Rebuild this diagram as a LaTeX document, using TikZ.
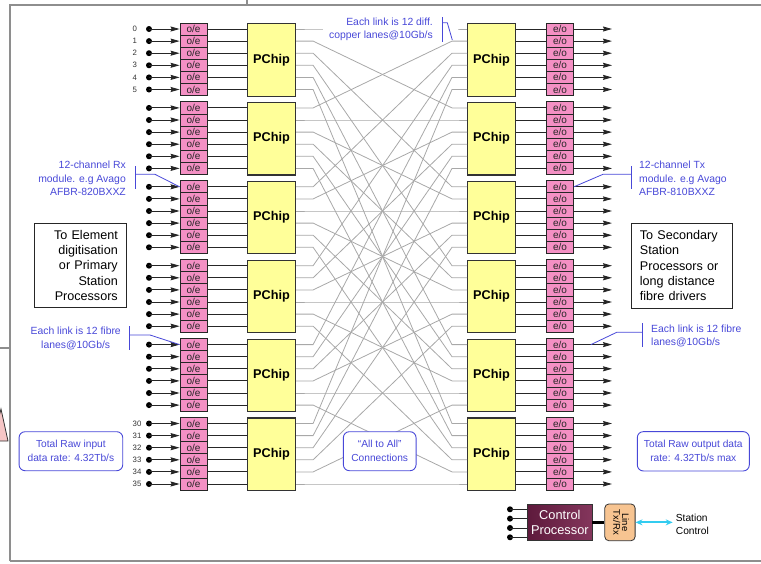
\documentclass[tikz,border=0pt]{standalone}
\usepackage{fontspec}
\setmainfont{Liberation Sans}
\usepackage{tikz}
\usetikzlibrary{arrows.meta,positioning,calc}
\definecolor{cLane}{HTML}{F490C4}
\definecolor{cChip}{HTML}{FFFF99}
\definecolor{cNote}{HTML}{4848D8}
\definecolor{cMesh}{HTML}{A8A8A8}
\definecolor{cFrame}{HTML}{8E8E8E}
\definecolor{cCpu}{HTML}{5E1A3C}
\definecolor{cCpuLight}{HTML}{84365C}
\definecolor{cLineIf}{HTML}{F7C491}
\definecolor{cLink}{HTML}{33CCF0}
\definecolor{cWarn}{HTML}{F6C6C6}
\tikzset{
  lane/.style={draw=black!85, line width=0.8pt, fill=cLane, minimum width=27pt,
               minimum height=12.1pt, inner sep=0pt, text=black!85,
               font=\fontsize{10}{10}\selectfont},
  chip/.style={draw=black!80, line width=1.1pt, fill=cChip, minimum width=48pt,
               minimum height=72.6pt, inner sep=0pt, anchor=north west,
               font=\fontsize{12.7}{13}\selectfont\bfseries},
  pin/.style={circle, fill=black, inner sep=0pt, minimum size=6pt},
  feed/.style={-{Stealth[length=9pt, width=5pt, inset=1pt]}, line width=0.9pt, draw=black!85},
  wire/.style={line width=0.9pt, draw=black!85},
  mesh/.style={line width=0.8pt, draw=cMesh},
  note/.style={text=cNote, inner sep=0pt, font=\fontsize{10.4}{13.3}\selectfont},
  pointer/.style={draw=cNote, line width=0.8pt},
  rbox/.style={draw=cNote, line width=0.9pt, rounded corners=6pt, fill=white,
               align=center, text=cNote, inner sep=2pt,
               font=\fontsize{10.2}{14}\selectfont},
  sidebox/.style={draw=black!85, line width=0.8pt, fill=white, inner xsep=8.5pt,
                  font=\fontsize{12.6}{15.3}\selectfont},
  numlbl/.style={font=\fontsize{7.8}{8}\selectfont, inner sep=0pt, anchor=west, text=black!80},
  frame/.style={draw=cFrame, line width=1.6pt},
}

\begin{document}
\begin{tikzpicture}[x=1pt, y=-1pt, node distance=12pt]
  \useasboundingbox (0,0) rectangle (761,563);
  \clip (0,0) rectangle (761,563);

  % surrounding frame
  \draw[frame] (10,561) -- (10,5) -- (770,5);
  \draw[frame] (10,561) -- (770,561);
  \draw[frame] (246.7,0) -- (246.7,5);
  \draw[frame] (0,348) -- (10,348);
  \filldraw[fill=cWarn, draw=black!80, line width=0.8pt] (-7,441) -- (1,409) -- (8,441) -- cycle;

  % six chips a side, six lanes per chip
  \foreach \g in {0,...,5}{
    \pgfmathsetmacro\gtop{22.95+78.9*\g}
    \node[chip] (lchip-\g) at (247,\gtop) {PChip};
    \node[chip] (rchip-\g) at (467,\gtop) {PChip};
    \foreach \r in {0,...,5}{
      \pgfmathtruncatemacro\k{6*\g+\r}
      \pgfmathsetmacro\yy{29+78.9*\g+12.1*\r}
      \node[pin] (in-\k) at (149,\yy) {};
      \node[lane] (oe-\k) at (193.5,\yy) {o/e};
      \node[lane] (eo-\k) at (560,\yy) {e/o};
      \coordinate (out-\k) at (612,\yy);
      \draw[feed] (in-\k.center) -- (oe-\k.west);
      \draw[wire] (oe-\k.east) -- (lchip-\g.west |- oe-\k.east);
      \draw[wire] (rchip-\g.east |- eo-\k.west) -- (eo-\k.west);
      \draw[feed] (eo-\k.east) -- (out-\k);
    }
  }
  \foreach \k in {0,1,2,3,4,5,30,31,32,33,34,35}
    \node[numlbl] (num-\k) at ($(in-\k.center)+(-16.5,0)$) {\k};

  % all to all
  \foreach \i in {0,...,5}{
    \foreach \j in {0,...,5}{
      \pgfmathtruncatemacro\a{6*\i+\j}
      \pgfmathtruncatemacro\b{6*\j+\i}
      \draw[mesh] (lchip-\i.east |- oe-\a) -- ++(17,0)
        -- ($(rchip-\j.west |- eo-\b)+(-15,0)$) -- (rchip-\j.west |- eo-\b);
    }
  }

  % notes
  \fill[white] (323,23.5) rectangle (458,34.5);
  \node[note, align=right, anchor=east] (cuNote) at (433,29.5) {Each link is 12 diff.\\copper lanes@10Gb/s};
  \draw[pointer] ($(cuNote.east)+(9.3,-12.5)$) -- ($(cuNote.east)+(9.3,12.2)$);
  \coordinate (cuTip) at (452.3,40);
  \draw[pointer] ($(cuNote.east)+(9.3,-6.8)$) -- ++(5,0) -- (cuTip);

  \node[note, align=right, anchor=east] (rxNote) at (126,178.3) {12-channel Rx\\module. e.g Avago\\AFBR-820BXXZ};
  \draw[pointer] ($(rxNote.east)+(9,-12)$) -- ($(rxNote.east)+(9,11)$);
  \draw[pointer] ($(rxNote.east)+(9,-4)$) -- ++(20,0) -- (oe-12.west);

  \node[note, align=center, anchor=east] (rxLink) at (121,338.5) {Each link is 12 fibre\\lanes@10Gb/s};
  \draw[pointer] ($(rxLink.east)+(8,-12.5)$) -- ($(rxLink.east)+(8,11.5)$);
  \draw[pointer] ($(rxLink.east)+(8,-3.5)$) -- ++(21,0) -- (oe-24.west);

  \node[note, align=left, anchor=west] (txNote) at (639,178.3) {12-channel Tx\\module. e.g Avago\\AFBR-810BXXZ};
  \draw[pointer] ($(txNote.west)+(-8,-12)$) -- ($(txNote.west)+(-8,11)$);
  \draw[pointer] ($(txNote.west)+(-8,-4)$) -- ++(-28,0) -- (eo-12.east);

  \node[note, align=left, anchor=west] (txLink) at (651,336) {Each link is 12 fibre\\lanes@10Gb/s};
  \coordinate (txTip) at ($(eo-24.east)+(17,0)$);
  \draw[pointer] ($(txLink.west)+(-8.3,-13)$) -- ($(txLink.west)+(-8.3,11)$);
  \draw[pointer] ($(txLink.west)+(-8.3,-3.7)$) -- ++(-26,0) -- (txTip);

  \node[sidebox, align=right, text width=74.7pt, minimum height=84.3pt, anchor=north east] (srcBox)
    at (126.7,222.7) {To Element\\digitisation\\or Primary\\Station\\Processors};
  \node[sidebox, align=left, text width=83.7pt, minimum height=84.7pt, anchor=north west] (dstBox)
    at (631,223) {To Secondary\\Station\\Processors or\\long distance\\fibre drivers};

  \node[rbox, minimum width=103.7pt, minimum height=39pt] (inRate) at (70.9,451.2) {Total Raw input\\data rate: 4.32Tb/s};
  \node[rbox, minimum width=72.7pt, minimum height=39pt] (allBox) at (379.7,451.2) {“All to All”\\Connections};
  \node[rbox, minimum width=112pt, minimum height=39.3pt] (outRate) at (693.3,451.3) {Total Raw output data\\rate: 4.32Tb/s max};

  % control
  \node[draw=black!80, line width=0.8pt, left color=cCpu, right color=cCpuLight, text=white,
        align=center, inner sep=0pt, minimum width=64.3pt, minimum height=36.7pt,
        font=\fontsize{12.8}{14.3}\selectfont]
    (cpu) at (559.85,522.35) {Control\\Processor};
  \node[draw=black!80, line width=0.8pt, fill=cLineIf, rounded corners=4pt, inner sep=0pt,
        minimum width=30.3pt, minimum height=36.7pt, right=12pt of cpu]
    (lineIf) {\rotatebox{-90}{\fontsize{9.5}{10.7}\selectfont\begin{tabular}{@{}c@{}}Line\\[-2pt]Tx/Rx\end{tabular}}};
  \foreach \n in {0,...,3}{
    \node[pin] (cpin-\n) at (510,509.3+9.33*\n) {};
    \draw[wire] (cpin-\n.center) -- (cpin-\n -| cpu.west);
  }
  \draw[line width=3pt] (cpu.east) -- (lineIf.west);
  \node[align=left, anchor=west, inner sep=3pt, font=\fontsize{10.2}{13}\selectfont] (stationCtl)
    at (672.7,524.5) {Station\\Control};
  \draw[{Stealth[length=7pt, width=6pt]}-{Stealth[length=7pt, width=6pt]}, cLink, line width=1.8pt]
    (lineIf.east) -- (lineIf.east -| stationCtl.west);
\end{tikzpicture}
\end{document}
